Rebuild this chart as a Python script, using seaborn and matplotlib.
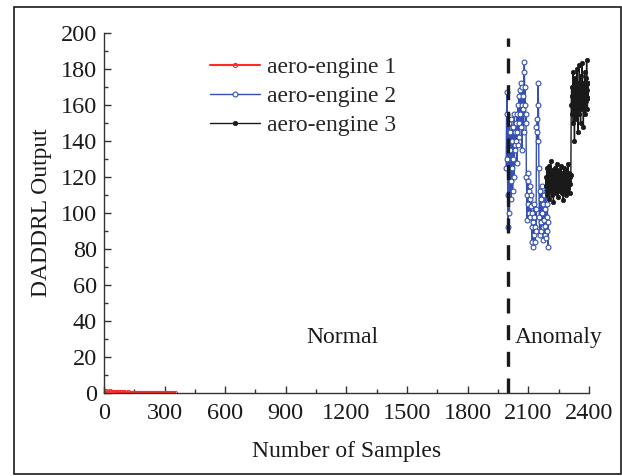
import numpy as np
import pandas as pd
import matplotlib
matplotlib.use("Agg")
import matplotlib.pyplot as plt
from matplotlib.patches import Rectangle
from matplotlib.ticker import MultipleLocator
import seaborn as sns

sns.set_theme(style="white")
plt.rcParams['font.family'] = ['Liberation Serif', 'DejaVu Serif']

# ---------------- data ----------------
engine1_start, engine1_step = 0, 10
engine1_values = [0.8, 1.0, 0.9, 1.0, 0.8, 0.9, 0.7, 0.6, 0.5, 0.4, 0.5, 0.3,
                  0.4, 0.3, 0.3, 0.2, 0.3, 0.2, 0.2, 0.3, 0.2, 0.1, 0.2, 0.1,
                  0.2, 0.1, 0.1, 0.1, 0.1, 0.1, 0.1, 0.1, 0.1, 0.0, 0.1, 0.0]

engine2_start, engine2_step = 1990, 2
engine2_values = [125, 155, 167, 130, 110, 92, 140, 150, 100, 135, 145, 118, 108,
                  152, 125, 140, 112, 148, 130, 155, 120, 138, 145,
                  135, 150, 140, 155, 128, 145, 160, 138, 150, 165, 142, 168, 155,
                  172, 148, 160, 135, 170, 158, 165, 145, 178, 184, 160, 170, 150, 155,
                  120, 110, 96, 118, 122, 105, 112, 100, 108, 115, 98, 104, 110,
                  92, 84, 100, 81, 95, 105, 88, 98, 84, 92, 102, 90, 148, 145, 152, 140,
                  172, 160, 125, 98, 88, 112, 95, 108, 90, 115, 100, 92, 105, 85,
                  110, 96, 88, 102, 93, 112, 86, 98, 90, 105, 81, 95]

engine3_start, engine3_step = 2186, 2
engine3_values = [115, 120, 112, 125, 110, 118, 122, 108, 126, 115, 119, 112, 129,
                  117, 121, 110, 124, 114, 118, 106, 122, 116, 113, 125, 119, 111,
                  120, 115, 127, 118, 109, 121, 116, 124, 112, 118, 120, 114, 126,
                  111, 119, 115, 122, 107, 117, 125, 113, 120, 118, 110, 124, 116,
                  121, 112, 119, 127, 114, 118, 122, 111, 120, 116, 121,
                  160, 170, 155, 165, 178, 150, 168, 162, 140, 175, 158, 170, 152,
                  165, 180, 160, 172, 145, 168, 155, 182, 162, 170, 150, 176, 165,
                  158, 183, 167, 172, 148, 170, 160, 178, 155, 165, 175, 162, 185,
                  168, 158, 172, 164]

labels = ["aero-engine 1", "aero-engine 2", "aero-engine 3"]
boundary = 2000
x_ticks = [0, 300, 600, 900, 1200, 1500, 1800, 2100, 2400]
y_ticks = [0, 20, 40, 60, 80, 100, 120, 140, 160, 180, 200]


def frame(start, step, vals, name):
    xs = start + step * np.arange(len(vals))
    return pd.DataFrame({"sample": xs, "value": vals, "engine": name})


d1 = frame(engine1_start, engine1_step, engine1_values, labels[0])
d2 = frame(engine2_start, engine2_step, engine2_values, labels[1])
d3 = frame(engine3_start, engine3_step, engine3_values, labels[2])

# ---------------- figure ----------------
fig = plt.figure(figsize=(6.22, 4.76), dpi=100)
ax = fig.add_axes([0.167, 0.174, 0.780, 0.757])

fs = 17
sns.lineplot(data=d1, x="sample", y="value", ax=ax, color="#ff2a2a", lw=1.5,
             marker="o", markersize=3, markerfacecolor="none",
             markeredgecolor="#ff2a2a", markeredgewidth=0.8, label=labels[0],
             sort=False, estimator=None)
sns.lineplot(data=d2, x="sample", y="value", ax=ax, color="#3550b0", lw=1.0,
             marker="o", markersize=3.5, markerfacecolor="white",
             markeredgecolor="#3550b0", markeredgewidth=0.8, label=labels[1],
             sort=False, estimator=None)
sns.lineplot(data=d3, x="sample", y="value", ax=ax, color="#1a1a1a", lw=1.0,
             marker="o", markersize=3.2, markerfacecolor="#1a1a1a",
             markeredgecolor="#1a1a1a", markeredgewidth=0.5, label=labels[2],
             sort=False, estimator=None)

ax.axvline(boundary, color="#1a1a1a", lw=2.4, ls=(0, (4.5, 3.5)), ymax=0.985)

ax.set_xlim(0, 2400)
ax.set_ylim(0, 200)
ax.set_xticks(x_ticks)
ax.set_yticks(y_ticks)
ax.xaxis.set_minor_locator(MultipleLocator(150))
ax.yaxis.set_minor_locator(MultipleLocator(10))
ax.tick_params(axis="both", which="major", direction="in", length=5, width=1,
               color="#333333", labelsize=17.5, labelcolor="#1a1a1a")
ax.tick_params(axis="x", which="major", pad=7)
ax.tick_params(axis="y", which="major", pad=5)
ax.tick_params(axis="both", which="minor", direction="in", length=3, width=1,
               color="#333333")
ax.tick_params(bottom=True, left=True, which="both")
for s in ["top", "right"]:
    ax.spines[s].set_visible(False)
for s in ["left", "bottom"]:
    ax.spines[s].set_color("#333333")
    ax.spines[s].set_linewidth(1.0)

ax.set_xlabel("Number of Samples", fontsize=fs, color="#1a1a1a", labelpad=12)
ax.set_ylabel("DADDRL Output", fontsize=fs, color="#1a1a1a", labelpad=6)

ax.text(1180, 31, "Normal", fontsize=fs, ha="center", va="center", color="#1a1a1a")
ax.text(2035, 31, "Anomaly", fontsize=fs, ha="left", va="center", color="#1a1a1a")

leg = ax.legend(loc="upper left", bbox_to_anchor=(0.2, 0.96), frameon=False,
                fontsize=fs, handlelength=2.1, handletextpad=0.3,
                labelspacing=0.32, borderaxespad=0)

fig.patches.append(Rectangle((0.022, 0.004), 0.976, 0.981, transform=fig.transFigure,
                             fill=False, edgecolor="#1a1a1a", lw=1.2))

fig.savefig("out.png", dpi=100)
